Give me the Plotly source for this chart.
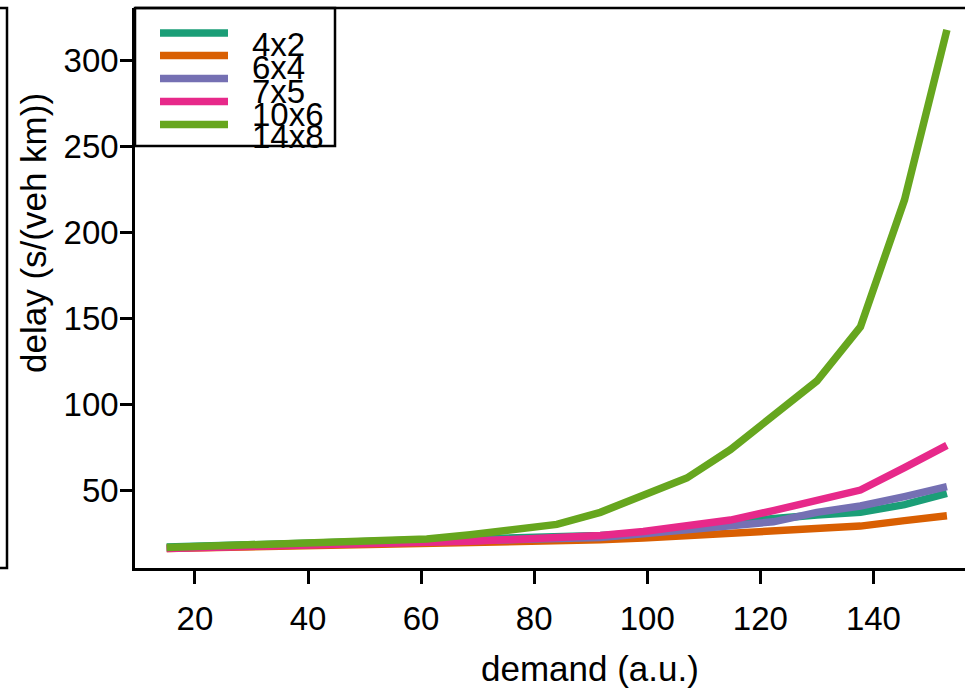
import plotly.graph_objects as go

demand = [15, 22.7, 30.3, 38, 45.7, 53.3, 61, 68.7, 76.3, 84, 91.7, 99.3,
          107, 114.7, 122.3, 130, 137.7, 145.5, 153]

series_names = ["4x2", "6x4", "7x5", "10x6", "14x8"]
delay_4x2 = [16.8, 17.6, 18.5, 19.5, 20.0, 20.5, 21.0, 21.5, 22.0, 22.5, 23.5, 24.8,
             26.7, 31.2, 33.5, 35.5, 37.0, 41.5, 48.0]
delay_6x4 = [16.0, 16.4, 16.8, 17.2, 17.6, 18.0, 18.4, 18.8, 19.3, 20.0, 21.0, 22.0,
             23.2, 24.8, 26.1, 27.7, 29.0, 32.2, 35.0]
delay_7x5 = [16.3, 16.8, 17.3, 17.8, 18.3, 18.8, 19.3, 20.0, 20.8, 21.5, 22.3, 24.5,
             26.5, 28.5, 31.5, 37.0, 40.7, 46.2, 52.0]
delay_10x6 = [16.0, 16.5, 17.0, 17.5, 18.0, 18.5, 19.3, 20.2, 21.2, 22.0, 23.5, 25.8,
              29.5, 32.5, 38.0, 43.5, 50.0, 63.0, 76.0]
delay_14x8 = [16.5, 17.5, 18.5, 19.5, 20.0, 20.5, 21.5, 24.0, 27.0, 30.0, 37.0, 46.5,
              57.0, 73.5, 94.0, 113.5, 145.0, 219.0, 318.0]
colors = ["#1B9E77", "#D95F02", "#7570B3", "#E7298A", "#66A61E"]

x_ticks = [20, 40, 60, 80, 100, 120, 140]
y_ticks = [50, 100, 150, 200, 250, 300]

all_delays = [delay_4x2, delay_6x4, delay_7x5, delay_10x6, delay_14x8]

W, H = 965, 688
ML, MR, MT, MB = 135, 0, 8, 120
PW, PH = W - ML - MR, H - MT - MB


def px(x):
    return (x - ML) / PW


def py(y):
    return (H - MB - y) / PH


FONT = "Liberation Sans, Arial, Helvetica, sans-serif"

fig = go.Figure()
for name, vals, col in zip(series_names, all_delays, colors):
    fig.add_trace(go.Scatter(x=demand, y=vals, mode="lines", name=name,
                             line=dict(color=col, width=7.5), showlegend=False))

shapes = []
# top frame line
shapes.append(dict(type="line", xref="paper", yref="paper", x0=0, x1=1.05, y0=1, y1=1,
                   line=dict(color="black", width=2.5)))
# partial box of neighbouring panel at far left
shapes.append(dict(type="rect", xref="paper", yref="paper", x0=px(-200), x1=px(7),
                   y0=0, y1=1, line=dict(color="black", width=2.5)))
# legend box
shapes.append(dict(type="rect", xref="paper", yref="paper", x0=0, x1=px(335),
                   y0=py(146), y1=1, line=dict(color="black", width=2.5)))

annotations = []
leg_line_y = [33, 55.5, 78.5, 101.5, 124.5]
leg_text_y = [45, 68, 91, 114, 137]
for name, col, ly, ty in zip(series_names, colors, leg_line_y, leg_text_y):
    shapes.append(dict(type="line", xref="paper", yref="paper", x0=px(160), x1=px(228),
                       y0=py(ly), y1=py(ly), line=dict(color=col, width=7.5)))
    annotations.append(dict(text=name, xref="paper", yref="paper", x=px(250), y=py(ty),
                            xanchor="left", yanchor="middle", showarrow=False,
                            font=dict(family=FONT, size=33, color="black")))

annotations.append(dict(text="demand (a.u.)", xref="paper", yref="paper", x=px(590),
                        y=py(668), xanchor="center", yanchor="middle", showarrow=False,
                        font=dict(family=FONT, size=35, color="black")))
annotations.append(dict(text="delay (s/(veh km))", xref="paper", yref="paper", x=px(33),
                        y=py(233), xanchor="center", yanchor="middle", showarrow=False,
                        textangle=-90,
                        font=dict(family=FONT, size=35, color="black")))

fig.update_layout(
    width=W, height=H,
    margin=dict(l=ML, r=MR, t=MT, b=MB, pad=0),
    paper_bgcolor="white", plot_bgcolor="white",
    shapes=shapes, annotations=annotations,
    font=dict(family=FONT, color="black"),
    xaxis=dict(range=[9.39, 156.2], tickvals=x_ticks, ticktext=[str(v) for v in x_ticks],
               showgrid=False, zeroline=False, showline=True, linecolor="black",
               linewidth=2.5, ticks="outside", ticklen=13, tickwidth=2.5,
               tickcolor="black", ticklabelstandoff=7,
               tickfont=dict(family=FONT, size=33, color="black")),
    yaxis=dict(range=[4.6, 330.7], tickvals=y_ticks, ticktext=[str(v) for v in y_ticks],
               showgrid=False, zeroline=False, showline=True, linecolor="black",
               linewidth=2.5, ticks="outside", ticklen=12, tickwidth=2.5,
               tickcolor="black", ticklabelstandoff=-5,
               tickfont=dict(family=FONT, size=33, color="black")),
)

fig.write_html("out.html", config={"displayModeBar": False},
               post_script="document.body.style.margin='0';document.body.style.overflow='hidden';")
